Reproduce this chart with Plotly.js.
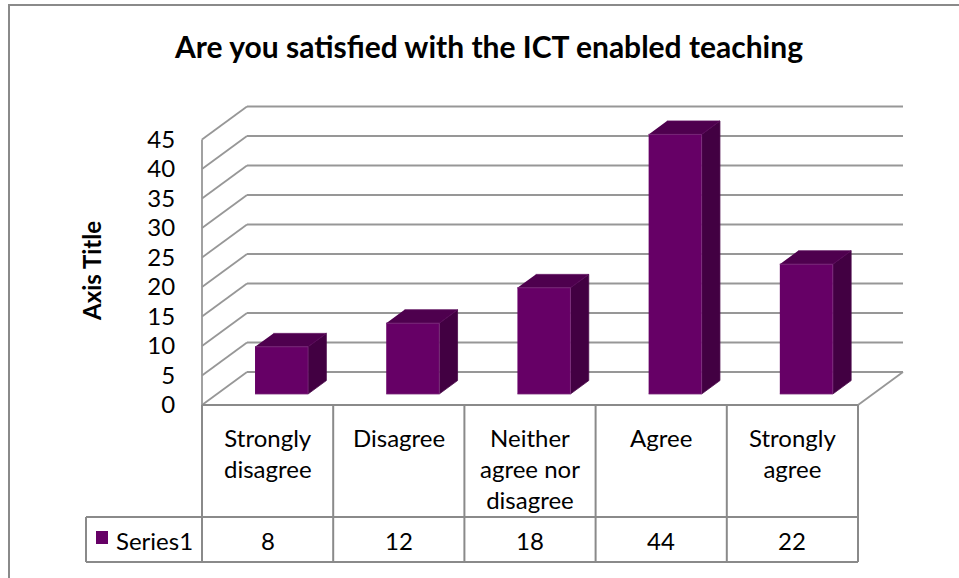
<!DOCTYPE html>
<html>
<head>
<meta charset="utf-8">
<script src="https://cdn.plot.ly/plotly-3.0.1.min.js"></script>
<style>html,body{margin:0;padding:0;background:#fff;}#chart{width:959px;height:578px;}</style>
</head>
<body>
<div id="chart"></div>
<script>
// ---- data ----
var categories = ['Strongly<br>disagree', 'Disagree', 'Neither<br>agree nor<br>disagree', 'Agree', 'Strongly<br>agree'];
var values = [8, 12, 18, 44, 22];
var seriesName = 'Series1';
var yTicks = [0, 5, 10, 15, 20, 25, 30, 35, 40, 45];
var chartTitle = 'Are you satisfied with the ICT enabled teaching';
var yTitle = 'Axis Title';

(function () {
// ---- layout constants (pixels) ----
var W = 959, H = 578;
var M = {l: 80, r: 45, t: 95, b: 10};
var PW = W - M.l - M.r, PH = H - M.t - M.b;
var U = 131.2;       // px per category
var V = 5.9;         // px per value unit
var X0 = 202, Y0 = 405; // pixel of (0,0)
function px2x(p) { return (p - X0) / U; }
function px2y(p) { return (Y0 - p) / V; }
var xRange = [px2x(M.l), px2x(W - M.r)];
var yRange = [px2y(H - M.b), px2y(M.t)];
var DX = 45 / U, DY = 33 / V;       // full depth vector
var f0 = 0.333, f1 = 0.74;          // bar depth
var barOff = 0.29, barW = 0.404;
var n = categories.length;
var yTop = yTicks[yTicks.length - 1];

var gridColor = '#979797', tableColor = '#8a8a8a';
var shapes = [];
function line(x0, y0, x1, y1, color, w) {
  shapes.push({type: 'line', xref: 'x', yref: 'y', x0: x0, y0: y0, x1: x1, y1: y1,
    line: {color: color, width: w}, layer: 'below'});
}
// walls
yTicks.forEach(function (t) {
  line(0, t, DX, t + DY, gridColor, 1.8);
  line(DX, t + DY, n + DX, t + DY, gridColor, 1.8);
});
line(0, 0, 0, yTop, gridColor, 1.8);
line(n, 0, n + DX, DY, gridColor, 1.8);

// table
var yMid = px2y(517), yBot = px2y(562), xS = px2x(86);
for (var i = 0; i <= n; i++) line(i, 0, i, yBot, tableColor, 2);
line(0, 0, n, 0, tableColor, 2);
line(xS, yMid, n, yMid, tableColor, 2);
line(xS, yBot, n, yBot, tableColor, 2);
line(xS, yMid, xS, yBot, tableColor, 2);
// legend key
shapes.push({type: 'rect', xref: 'x', yref: 'y', x0: px2x(96), x1: px2x(108), y0: px2y(544), y1: px2y(531),
  fillcolor: '#660066', line: {width: 0}, layer: 'above'});

// outer border
shapes.push({type: 'rect', xref: 'paper', yref: 'paper',
  x0: (9 - M.l) / PW, x1: (975 - M.l) / PW, y0: (H - M.b - 595) / PH, y1: (H - M.b - 5) / PH,
  line: {color: '#8a8a8a', width: 2}, fillcolor: 'rgba(0,0,0,0)', layer: 'below'});

// bars
var frontF = {x: [], y: []}, topF = {x: [], y: []}, sideF = {x: [], y: []};
var ddx = (f1 - f0) * DX, ddy = (f1 - f0) * DY;
values.forEach(function (v, i) {
  var xl = i + f0 * DX + barOff, xr = xl + barW, yb = f0 * DY, yt = yb + v;
  frontF.x.push(xl, xr, xr, xl, null); frontF.y.push(yb, yb, yt, yt, null);
  topF.x.push(xl, xr, xr + ddx, xl + ddx, null); topF.y.push(yt, yt, yt + ddy, yt + ddy, null);
  sideF.x.push(xr, xr + ddx, xr + ddx, xr, null); sideF.y.push(yb, yb + ddy, yt + ddy, yt, null);
});
function face(d, color, edge) {
  return {type: 'scatter', mode: 'lines', x: d.x, y: d.y, fill: 'toself', fillcolor: color,
    line: {color: edge, width: 0.8}, hoverinfo: 'skip', showlegend: false, connectgaps: false};
}
var data = [face(sideF, '#420042', '#4a0a4a'), face(topF, '#4e004e', '#5a0a5a'), face(frontF, '#660066', '#7a2a7a')];

// annotations
var font = 'Lato, "Open Sans", sans-serif';
var ann = [];
categories.forEach(function (c, i) {
  ann.push({xref: 'x', yref: 'y', x: i + 0.5, y: px2y(421), text: c, showarrow: false,
    xanchor: 'center', yanchor: 'top', align: 'center', font: {family: font, size: 24, color: '#000'}});
  ann.push({xref: 'x', yref: 'y', x: i + 0.5, y: px2y(540), text: String(values[i]), showarrow: false,
    xanchor: 'center', yanchor: 'middle', font: {family: font, size: 24, color: '#000'}});
});
ann.push({xref: 'x', yref: 'y', x: px2x(114), y: px2y(540), text: seriesName, showarrow: false,
  xanchor: 'left', yanchor: 'middle', font: {family: font, size: 24, color: '#000'}});
ann.push({xref: 'paper', yref: 'paper', x: (91 - M.l) / PW, y: (H - M.b - 271) / PH, text: '<b>' + yTitle + '</b>',
  textangle: -90, showarrow: false, xanchor: 'center', yanchor: 'middle',
  font: {family: font, size: 24, color: '#000'}});

var layout = {
  width: W, height: H, margin: M, paper_bgcolor: '#fff', plot_bgcolor: 'rgba(0,0,0,0)',
  title: {text: '<b>' + chartTitle + '</b>', xref: 'container', yref: 'container', x: 489 / W, y: 1 - 47 / H,
    xanchor: 'center', yanchor: 'middle', font: {family: font, size: 30, color: '#000'}},
  xaxis: {range: xRange, visible: false, fixedrange: true},
  yaxis: {range: yRange, anchor: 'free', position: (X0 - M.l) / PW, tickvals: yTicks,
    ticktext: yTicks.map(String), showgrid: false, zeroline: false, showline: false,
    ticks: 'outside', ticklen: 22, tickcolor: 'rgba(0,0,0,0)',
    tickfont: {family: font, size: 24, color: '#000'}, fixedrange: true},
  shapes: shapes, annotations: ann, showlegend: false
};
Plotly.newPlot('chart', data, layout, {staticPlot: true, displayModeBar: false});
})();
</script>
</body>
</html>
